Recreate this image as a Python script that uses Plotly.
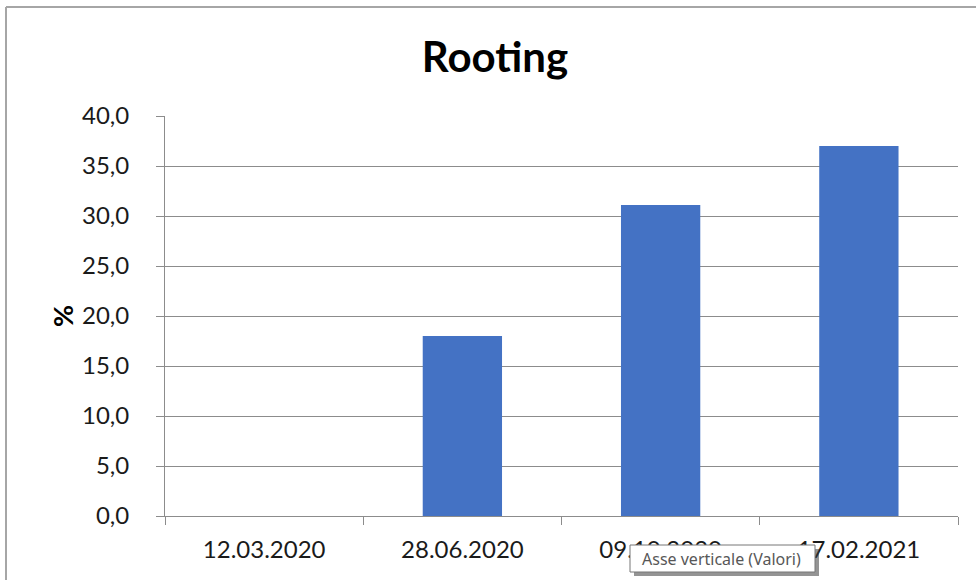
import plotly.graph_objects as go

# Rooting percentage by sampling date
dates = ["12.03.2020", "28.06.2020", "09.10.2020", "17.02.2021"]
rooting = [0.0, 18.0, 31.1, 37.0]
y_ticks = [0, 5, 10, 15, 20, 25, 30, 35, 40]

W, H = 976, 580
L, R, T, B = 165, 18, 116, 64
pw, ph = W - L - R, H - T - B

def px_x(x):
    return (x - L) / pw

def px_y(y):
    return (H - B - y) / ph

font = "Lato"
grid = "#8c8c8c"

fig = go.Figure(
    go.Bar(
        x=dates,
        y=rooting,
        marker=dict(color="#4472C4", line=dict(width=0)),
        hoverinfo="skip",
    )
)

fig.update_layout(
    width=W,
    height=H,
    margin=dict(l=L, r=R, t=T, b=B),
    paper_bgcolor="white",
    plot_bgcolor="white",
    separators=",.",
    bargap=0.6,
    showlegend=False,
    title=dict(
        text="<b>Rooting</b>",
        x=(495 / W),
        xanchor="center",
        y=1 - 57 / H,
        yanchor="middle",
        font=dict(family=font, size=42, color="black"),
    ),
    font=dict(family=font, color="#1a1a1a"),
)

fig.update_xaxes(
    type="category",
    tickson="boundaries",
    ticks="outside",
    ticklen=8,
    tickcolor=grid,
    showline=True,
    linecolor=grid,
    linewidth=1,
    showgrid=False,
    ticklabelstandoff=12,
    tickfont=dict(family=font, size=24, color="#1a1a1a"),
    fixedrange=True,
)

fig.update_yaxes(
    range=[0, 40],
    tickvals=y_ticks,
    tickformat=".1f",
    ticks="outside",
    ticklen=8,
    tickcolor=grid,
    showline=True,
    linecolor=grid,
    linewidth=1,
    showgrid=True,
    gridcolor=grid,
    gridwidth=1,
    zeroline=False,
    ticklabelstandoff=22,
    tickfont=dict(family=font, size=24, color="#1a1a1a"),
    title=dict(text="<b>%</b>", font=dict(family=font, size=27, color="black"), standoff=0),
    fixedrange=True,
)

shapes = [
    # outer chart border (top and left edges)
    dict(type="line", xref="paper", yref="paper",
         x0=px_x(6), x1=px_x(W + 10), y0=px_y(7), y1=px_y(7),
         line=dict(color="#a6a6a6", width=2)),
    dict(type="line", xref="paper", yref="paper",
         x0=px_x(6), x1=px_x(6), y0=px_y(7), y1=px_y(H + 10),
         line=dict(color="#a6a6a6", width=2)),
    # tooltip shadow and box
    dict(type="rect", xref="paper", yref="paper",
         x0=px_x(634), x1=px_x(819), y0=px_y(549), y1=px_y(576),
         fillcolor="rgba(60,60,60,0.55)", line=dict(width=0), layer="above"),
    dict(type="rect", xref="paper", yref="paper",
         x0=px_x(630), x1=px_x(815), y0=px_y(545), y1=px_y(572),
         fillcolor="white", line=dict(color="#767676", width=1), layer="above"),
]

annotations = [
    dict(text="Asse verticale (Valori)", xref="paper", yref="paper",
         x=px_x(721), y=px_y(558.5), xanchor="center", yanchor="middle",
         showarrow=False, font=dict(family="Noto Sans", size=16, color="#575757")),
]

fig.update_layout(shapes=shapes, annotations=annotations)

fig.write_html("out.html")
